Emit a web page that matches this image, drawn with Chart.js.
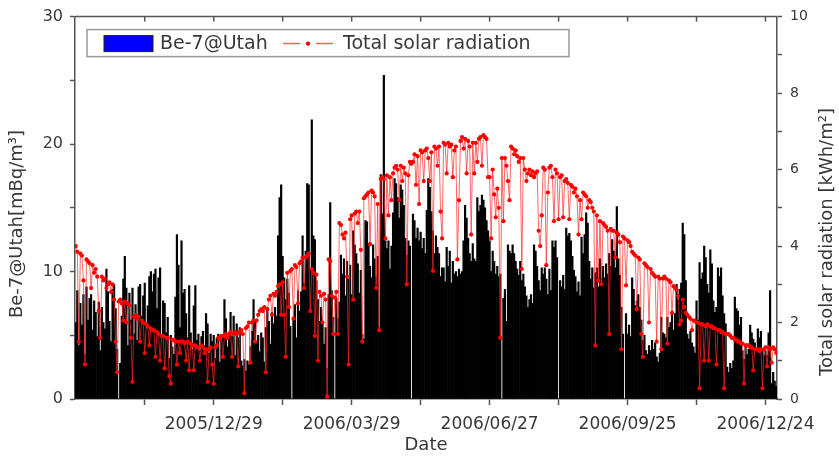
<!DOCTYPE html>
<html>
<head>
<meta charset="utf-8">
<script src="https://cdn.jsdelivr.net/npm/chart.js@4.4.0/dist/chart.umd.min.js"></script>
<style>
    html, body { margin: 0; padding: 0; background: #fff; }
    #wrap { width: 839px; height: 460px; }
</style>
</head>
<body>
<div id="wrap"><canvas id="chart" width="839" height="460"></canvas></div>
<script>
// Daily series, day 0 = 2005/09/30
const startDate = '2005/09/30';
const labelDays = [90, 180, 270, 360, 450];
const dateLabels = ['2005/12/29', '2006/03/29', '2006/06/27', '2006/09/25', '2006/12/24'];
const tickDays = [45, 90, 135, 180, 225, 270, 315, 360, 405, 450];
const leftTicks = [0, 5, 10, 15, 20, 25, 30];
const rightTicks = [0, 1, 2, 3, 4, 5, 6, 7, 8, 9, 10];

// Be-7@Utah [mBq/m3]
const be7 = [
    6.0, 8.5, 4.2, 7.5, 5.8, 8.2, 3.5, 8.8, 6.2, 7.9,
    8.2, 5.4, 7.7, 6.8, 4.9, 7.6, 3.8, 7.2, 6.0, 5.5,
    10.2, 8.4, 6.1, 4.5, 8.6, 9.0, 7.1, 3.9, null, 2.8,
    6.5, 9.4, 11.2, 8.7, 4.2, 8.3, 6.2, 8.7, 5.1, 7.4,
    4.6, 8.8, 9.0, 6.5, 8.1, 9.1, 5.7, 7.3, 9.6, 10.0,
    8.4, 9.8, 10.2, 7.1, 9.5, 10.3, 4.8, 7.7, 7.5, 5.2,
    6.4, 3.2, 5.0, 4.1, 3.5, 8.0, 12.9, 10.5, 5.6, 12.4,
    8.3, 8.6, 6.7, 4.8, 8.9, 5.2, 3.9, 7.3, 8.9, 4.6,
    5.1, 3.8, 4.9, 5.3, 4.2, 6.7, 5.9, 3.6, 5.1, 4.5,
    5.0, 3.2, 4.8, 5.1, 2.9, 4.7, 5.0, 7.8, 6.3, 4.1,
    5.2, 6.8, 4.9, 6.5, 3.4, 5.9, 4.8, 5.6, 3.0, 2.6,
    3.1, 2.2, 3.0, 2.7, 4.1, 5.3, 7.8, 6.2, 4.4, 5.0,
    3.7, 5.2, 4.8, 2.9, 5.6, 7.0, 6.1, 4.3, 6.8, 5.9,
    7.2, 6.5, 12.8, 15.8, 16.8, 11.2, 9.5, 7.8, 9.4, 8.3,
    5.7, null, 6.2, 7.4, 4.8, 8.5, 6.9, 8.4, 12.8, 9.1,
    11.6, 16.9, 16.8, 10.2, 21.9, 12.8, 12.5, 9.3, 7.8, 6.1,
    7.2, 5.9, 4.3, 5.6, 2.4, 8.2, 15.4, 8.5, 6.4, null,
    7.9, 6.3, 7.6, 11.3, 9.8, 11.0, 8.1, 10.8, 9.4, 10.5,
    8.2, 13.2, 12.1, 11.4, 10.6, 8.3, 10.1, 5.1, 4.7, 14.0,
    13.9, 12.2, 10.4, 9.5, 12.1, 11.0, 9.6, 11.2, 5.6, 17.6,
    14.5, 25.4, 12.4, 11.8, 12.4, 10.2, 12.0, 14.6, 17.3, 16.9,
    15.8, 14.2, 16.8, 16.4, 15.2, 12.6, 11.3, 12.4, 12.0, null,
    14.5, 14.0, 12.6, 13.4, 12.4, 13.1, 11.8, 12.6, 11.4, 14.8,
    17.3, 16.6, 14.7, 13.2, 11.4, 12.8, 11.9, 11.4, 9.6, 10.3,
    10.3, 9.2, 11.9, 10.4, 11.6, 9.1, 10.8, 9.8, 10.0, 9.6,
    10.2, 9.8, 10.0, 12.4, 15.2, 14.2, 12.6, 11.4, 10.8, 12.2,
    11.0, 10.8, 15.8, 14.7, 15.2, 16.0, 15.6, 15.0, 14.0, 13.2,
    12.4, 10.0, 11.6, 10.8, 9.8, 10.4, 9.6, 9.8, null, 7.9,
    8.6, 6.1, 12.1, 11.6, 11.4, 12.1, 11.4, 10.8, 10.2, 9.7,
    10.8, 9.3, 9.8, 8.8, 8.1, 7.2, 7.8, 8.2, 7.5, 12.1,
    11.6, 10.4, 9.3, 8.5, 10.3, 9.8, 10.3, 9.4, 8.2, 10.2,
    8.5, 12.4, 11.9, 12.4, 11.1, null, 9.3, 8.8, 9.7, 8.6,
    13.4, 12.8, 13.0, 12.4, 11.2, 10.1, 9.6, 8.4, 9.2, 8.1,
    12.7, 11.4, 12.9, 14.6, 13.8, 10.8, 9.4, 10.3, 8.7, 9.9,
    10.3, 8.8, 11.0, 9.5, 10.4, 9.5, 10.6, 9.8, 11.4, 10.4,
    12.5, 11.6, 10.3, 15.1, 11.0, 9.7, 7.2, 5.1, null, 6.7,
    5.1, 5.8, 4.9, 9.5, 8.6, 7.3, 7.7, 8.2, 7.2, 6.2,
    4.6, 5.0, 3.8, 3.5, 4.2, 3.8, 4.6, 3.9, 4.4, 3.3,
    2.9, 3.6, 6.4, 5.2, 5.1, 4.8, 6.4, 5.6, 6.0, 6.9,
    5.4, 6.7, 9.0, 7.8, 8.6, 9.1, 13.8, 12.9, 9.3, 5.1,
    4.7, 5.3, 4.4, 4.1, 3.6, 7.7, 6.2, 10.7, 9.4, 9.9,
    12.0, 11.1, 9.0, 8.3, 11.7, 10.6, 7.7, 6.8, 7.2, 10.3,
    9.6, 10.3, 8.1, 6.7, 5.9, 2.5, 2.1, 2.8, 2.4, 3.0,
    8.0, 7.1, 6.9, 5.8, 6.4, 3.8, 3.1, 4.2, 3.5, 3.9,
    5.8, 5.2, 4.7, 4.4, 3.9, 5.5, 4.8, 5.3, 3.8, 3.4,
    3.8, 3.4, 5.2, 8.5, 1.2, 2.1, 1.4, 1.0
];

// Total solar radiation [kWh/m2]
const solar = [
    4.0, 3.85, 1.5, 3.8, 3.75, 3.1, 0.9, 3.65, 3.6, 3.55,
    2.9, 3.5, 3.3, 3.4, 3.2, 2.3, 1.6, 3.2, 3.1, 3.15,
    2.9, 3.0, 3.05, 2.8, 3.0, 2.6, 1.5, 0.7, 2.55, 2.6,
    2.5, 2.05, 2.55, 2.0, 2.5, 2.45, 1.6, 0.45, 2.15, 2.2,
    2.1, 2.15, 1.5, 2.05, 2.0, 1.2, 1.95, 1.9, 1.4, 1.85,
    1.8, 1.8, 1.1, 1.75, 1.7, 1.0, 1.65, 1.65, 0.8, 1.6,
    1.6, 0.6, 0.4, 1.55, 1.55, 1.5, 0.9, 1.5, 1.2, 1.5,
    1.5, 1.45, 1.0, 1.5, 0.75, 1.45, 1.4, 0.75, 1.4, 1.35,
    1.35, 1.0, 1.4, 1.35, 1.2, 1.3, 0.45, 1.3, 1.35, 0.9,
    0.4, 1.35, 1.4, 1.6, 1.55, 1.65, 1.1, 1.65, 1.7, 1.6,
    1.7, 1.75, 1.1, 1.7, 1.75, 1.7, 0.85, 1.75, 1.8, 1.7,
    0.15, 1.85, 1.9, 2.0, 0.95, 2.0, 2.05, 1.5, 2.05, 2.2,
    2.3, 2.35, 2.3, 2.4, 0.7, 2.35, 2.6, 2.7, 2.2, 2.75,
    2.7, 2.8, 2.95, 3.0, 2.2, 3.05, 2.2, 1.1, 3.3, 2.4,
    3.35, 3.4, 2.1, 3.5, 3.45, 2.5, 3.55, 3.6, 3.7, 2.9,
    3.7, 3.75, 3.8, 2.3, 3.4, 3.3, 1.65, 3.25, 1.0, 2.8,
    2.7, 2.0, 2.75, 2.6, 0.06, 3.65, 3.6, 2.7, 1.7, 2.65,
    2.8, 1.7, 4.6, 4.55, 4.3, 4.2, 4.35, 3.2, 0.9, 4.7,
    4.8, 2.6, 4.85, 4.9, 4.6, 4.9, 3.9, 1.5, 5.25, 5.3,
    5.35, 5.4, 4.05, 5.45, 5.4, 5.3, 2.9, 5.1, 1.8, 5.75,
    5.8, 5.75, 4.2, 5.85, 4.8, 5.8, 5.2, 5.9, 6.05, 6.1,
    6.0, 5.2, 6.1, 5.7, 6.05, 5.9, 3.0, 5.85, 6.2, 6.15,
    6.2, 6.4, 5.6, 6.35, 5.1, 6.5, 6.45, 5.7, 6.5, 6.55,
    6.3, 5.7, 6.45, 3.35, 6.6, 6.55, 6.1, 6.6, 4.9, 4.2,
    6.7, 6.65, 5.9, 6.7, 6.6, 6.65, 5.8, 6.5, 6.6, 3.65,
    5.2, 6.75, 6.85, 6.55, 6.8, 5.9, 6.75, 6.6, 4.3, 6.7,
    5.9, 6.7, 6.2, 6.8, 6.85, 6.1, 6.9, 6.85, 6.8, 5.8,
    5.8, 4.2, 6.0, 5.35, 4.75, 5.5, 5.0, 1.6, 6.3, 4.65,
    6.3, 6.1, 5.7, 5.2, 6.6, 6.55, 6.4, 6.5, 6.35, 6.2,
    6.3, 3.4, 6.3, 6.0, 5.7, 5.9, 6.0, 5.85, 5.95, 5.8,
    5.9, 5.95, 4.4, 4.0, 4.8, 6.05, 6.0, 3.5, 5.4, 6.05,
    6.1, 5.8, 4.65, 6.0, 5.9, 4.7, 5.8, 5.85, 4.75, 5.7,
    5.75, 5.65, 4.7, 5.6, 5.55, 5.4, 5.5, 5.3, 4.3, 5.2,
    4.7, 5.4, 5.35, 5.3, 5.0, 5.2, 5.15, 5.0, 4.9, 1.4,
    4.8, 3.1, 4.65, 3.0, 4.6, 4.55, 4.5, 4.4, 1.7, 4.45,
    4.4, 4.4, 3.7, 4.35, 4.3, 4.1, 1.3, 4.25, 4.2, 2.97,
    4.15, 4.1, 4.0, 3.85, 3.8, 3.75, 2.35, 3.7, 3.65, 1.7,
    1.1, 3.55, 3.5, 3.45, 2.0, 3.4, 3.3, 3.25, 3.2, 1.5,
    3.2, 3.15, 1.3, 3.15, 3.2, 3.15, 1.45, 3.1, 3.05, 2.25,
    2.95, 2.9, 2.85, 2.7, 1.95, 2.05, 2.6, 2.4, 2.25, 2.2,
    2.15, 2.1, 1.8, 2.05, 2.05, 2.0, 2.0, 0.28, 1.95, 1.95,
    1.0, 1.9, 1.95, 1.0, 1.9, 1.9, 1.85, 1.85, 0.9, 1.8,
    1.8, 1.75, 1.75, 0.28, 1.7, 1.7, 1.7, 1.65, 1.6, 1.6,
    1.55, 1.55, 1.5, 1.5, 1.45, 1.45, 0.4, 1.4, 1.4, 1.4,
    1.35, 1.35, 0.75, 1.3, 1.3, 1.3, 1.25, 1.3, 0.28, 1.3,
    1.35, 0.85, 1.35, 1.3, 0.95, 1.35, 1.3, 1.2
];

const FONT = 'DejaVu Sans';
const TEXT = '#383838';
const AXIS = '#555';

Chart.defaults.font.family = FONT;

// frame, top ticks, y titles and the boxed legend inside the plot
const decorations = {
    id: 'decorations',
    afterDraw(chart) {
        const c = chart.ctx;
        const a = chart.chartArea;
        const xs = chart.scales.x;
        c.save();

        c.strokeStyle = AXIS;
        c.lineWidth = 1.5;
        c.beginPath();
        c.moveTo(a.left, a.top);
        c.lineTo(a.right, a.top);
        c.stroke();
        tickDays.forEach(d => {
            const px = xs.getPixelForValue(d);
            c.beginPath();
            c.moveTo(px, a.top);
            c.lineTo(px, a.top + 5);
            c.stroke();
        });

        // axis titles
        c.fillStyle = TEXT;
        c.font = '18px "' + FONT + '"';
        c.textAlign = 'center';
        c.textBaseline = 'middle';
        c.save();
        c.translate(17, 224);
        c.rotate(-Math.PI / 2);
        c.fillText('Be-7@Utah[mBq/m³]', 0, 0);
        c.restore();
        c.save();
        c.translate(827, 242);
        c.rotate(-Math.PI / 2);
        c.fillText('Total solar radiation [kWh/m²]', 0, 0);
        c.restore();

        // legend
        const lx = a.left + 12, ly = a.top + 13;
        c.fillStyle = '#fff';
        c.fillRect(lx, ly, 482, 27);
        c.strokeStyle = '#999';
        c.lineWidth = 1.5;
        c.strokeRect(lx, ly, 482, 27);

        c.fillStyle = '#0000ff';
        c.fillRect(lx + 17, ly + 6, 49, 16);
        c.strokeStyle = '#222';
        c.lineWidth = 1;
        c.strokeRect(lx + 17, ly + 6, 49, 16);

        c.fillStyle = TEXT;
        c.font = '19px "' + FONT + '"';
        c.textAlign = 'left';
        c.textBaseline = 'middle';
        c.fillText('Be-7@Utah', lx + 73, ly + 14.5);

        c.strokeStyle = '#ff6060';
        c.lineWidth = 1.5;
        c.beginPath();
        c.moveTo(lx + 196, ly + 14); c.lineTo(lx + 213, ly + 14);
        c.moveTo(lx + 229, ly + 14); c.lineTo(lx + 246, ly + 14);
        c.stroke();
        c.fillStyle = '#ff0000';
        c.beginPath();
        c.arc(lx + 221, ly + 14, 2.2, 0, Math.PI * 2);
        c.fill();

        c.fillStyle = TEXT;
        c.fillText('Total solar radiation', lx + 256, ly + 14.5);
        c.restore();
    }
};

const ctx = document.getElementById('chart').getContext('2d');
new Chart(ctx, {
    type: 'bar',
    data: {
        datasets: [
            {
                type: 'line',
                label: 'Total solar radiation',
                data: solar.map((v, i) => ({ x: i, y: v })),
                yAxisID: 'y1',
                borderColor: 'rgba(255, 40, 40, 0.7)',
                borderWidth: 1,
                pointRadius: 2.1,
                pointBackgroundColor: '#ff0000',
                pointBorderWidth: 0,
                tension: 0,
                order: 0
            },
            {
                label: 'Be-7@Utah',
                data: be7.map((v, i) => ({ x: i, y: v })),
                yAxisID: 'y',
                backgroundColor: '#000',
                borderWidth: 0,
                barPercentage: 1,
                categoryPercentage: 1,
                order: 1
            }
        ]
    },
    options: {
        responsive: false,
        animation: false,
        devicePixelRatio: 1,
        layout: { padding: { top: 14 } },
        plugins: {
            legend: { display: false },
            tooltip: { enabled: false }
        },
        scales: {
            x: {
                type: 'linear',
                min: -0.5,
                max: 457.5,
                offset: false,
                afterBuildTicks: s => { s.ticks = tickDays.map(v => ({ value: v })); },
                afterFit: s => { s.height = 61; },
                ticks: {
                    autoSkip: false,
                    maxRotation: 0,
                    padding: 9,
                    color: TEXT,
                    font: { size: 17 },
                    callback: v => {
                        const i = labelDays.indexOf(v);
                        return i >= 0 ? dateLabels[i] : '';
                    }
                },
                grid: { offset: false, drawOnChartArea: false, drawTicks: true, tickLength: 6, color: AXIS, tickWidth: 1.5 },
                border: { color: AXIS, width: 1.5 },
                title: { display: true, text: 'Date', color: TEXT, font: { size: 18 }, padding: { top: 2, bottom: 4 } }
            },
            y: {
                position: 'left',
                min: 0,
                max: 30,
                afterBuildTicks: s => { s.ticks = leftTicks.map(v => ({ value: v })); },
                afterFit: s => { s.width = 75; },
                ticks: {
                    padding: 7,
                    color: TEXT,
                    font: { size: 16 },
                    callback: v => (v % 10 === 0 ? v : '')
                },
                grid: { drawOnChartArea: false, tickLength: 5, color: AXIS, tickWidth: 1.5 },
                border: { color: AXIS, width: 1.5 }
            },
            y1: {
                position: 'right',
                min: 0,
                max: 10,
                afterBuildTicks: s => { s.ticks = rightTicks.map(v => ({ value: v })); },
                afterFit: s => { s.width = 62; },
                ticks: {
                    padding: 8,
                    color: TEXT,
                    font: { size: 14 },
                    callback: v => (v % 2 === 0 ? v : '')
                },
                grid: { drawOnChartArea: false, tickLength: 5, color: AXIS, tickWidth: 1.5 },
                border: { color: AXIS, width: 1.5 }
            }
        }
    },
    plugins: [decorations]
});
</script>
</body>
</html>
